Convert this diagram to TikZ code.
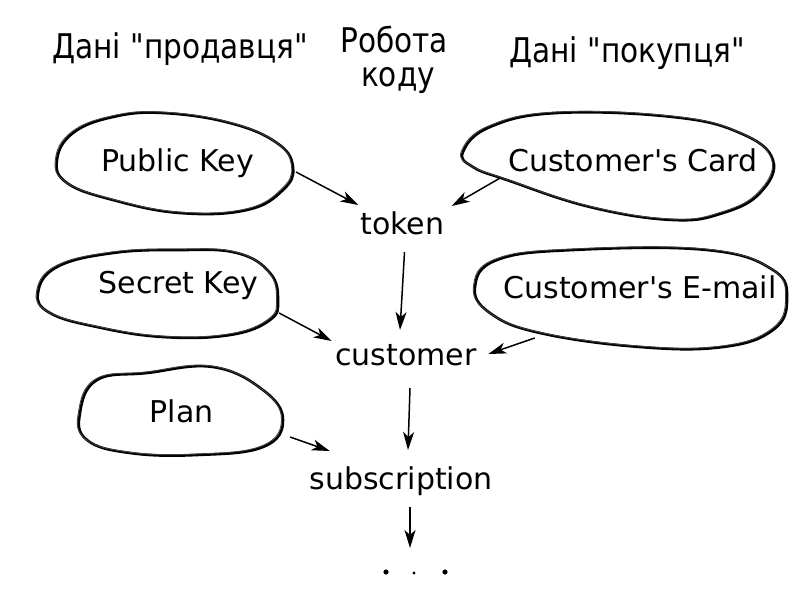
\documentclass[tikz,border=0pt]{standalone}
\usepackage{fontspec}
\setmainfont[Ligatures=TeXOff]{DejaVu Sans}
\newfontfamily\hdr[FakeStretch=0.87,Ligatures=TeXOff]{DejaVu Sans}
\usetikzlibrary{arrows.meta,calc}
\begin{document}
\begin{tikzpicture}[x=1pt,y=-1pt,
  lbl/.style={inner sep=0pt,anchor=base,font=\fontsize{30}{36}\selectfont},
  hdrlbl/.style={inner sep=0pt,anchor=base,font=\hdr\fontsize{34}{40}\selectfont},
  blob/.style={line width=2.6pt,line join=round,
    postaction={draw,line width=0.9pt,black!75,transform canvas={xshift=-1.5pt,yshift=1pt}}},
  conn/.style={line width=1.5pt,-{Stealth[length=18pt,width=11pt,inset=5pt]}}]
\useasboundingbox (0,0) rectangle (800,600);
% headers
\node[hdrlbl] (h1) at (180,58) {Дані "продавця"};
\node[hdrlbl] (h2a) at (394,52) {Робота};
\node[hdrlbl] (h2b) at (398,86) {коду};
\node[hdrlbl] (h3) at (627,62) {Дані "покупця"};
% blobs
\draw[blob] plot[smooth cycle,tension=0.7] coordinates {(57,160) (73,133) (113,117) (163,113) (230,123) (277,143) (293,167) (283,190) (247,210) (180,213) (113,200) (67,183)};
\draw[blob] plot[smooth cycle,tension=0.7] coordinates {(38,293) (57,267) (113,253) (180,250) (237,253) (270,273) (278,300) (270,320) (230,335) (163,337) (97,327) (50,313)};
\draw[blob] plot[smooth cycle,tension=0.7] coordinates {(80,413) (97,380) (147,373) (213,367) (263,390) (283,420) (263,447) (197,455) (130,453) (87,440)};
\draw[blob] plot[smooth cycle,tension=0.7] coordinates {(463,152) (490,127) (557,113) (673,117) (740,133) (773,160) (760,193) (723,213) (673,220) (590,207) (507,180) (473,167)};
\draw[blob] plot[smooth cycle,tension=0.7] coordinates {(475,287) (497,260) (573,250) (707,250) (773,270) (787,300) (773,330) (723,347) (640,347) (540,333) (490,313)};
% labels
\node[lbl] (pk) at (177.5,171) {Public Key};
\node[lbl] (sk) at (178.5,293) {Secret Key};
\node[lbl] (plan) at (181.5,422) {Plan};
\node[lbl] (cc) at (633,171) {Customer's Card};
\node[lbl] (em) at (640,298) {Customer's E-mail};
\node[lbl] (token) at (402.5,234) {token};
\node[lbl] (cust) at (406,365) {customer};
\node[lbl] (sub) at (401,489) {subscription};
\coordinate (dots) at (414,572);
\fill ($(dots)+(-28,0)$) circle (2.6pt);
\fill ($(dots)+(0,1)$) circle (1.6pt);
\fill ($(dots)+(31,0)$) circle (2.6pt);
% connectors
\draw[conn] ($(pk.base east)+(42,1)$) -- ($(token.base west)+(-2,-29)$);
\draw[conn] ($(cc.base west)+(-8,7)$) -- ($(token.base east)+(7,-28)$);
\draw[conn] ($(token.base)+(2,18)$) -- ($(cust.base)+(-6,-35)$);
\draw[conn] ($(sk.base east)+(20.5,20)$) -- ($(cust.base west)+(-3.5,-24)$);
\draw[conn] ($(em.base west)+(31.5,40)$) -- ($(cust.base east)+(11.5,-11)$);
\draw[conn] ($(cust.base)+(4,23)$) -- ($(sub.base)+(7,-39)$);
\draw[conn] ($(plan.base east)+(76.5,15)$) -- ($(sub.base west)+(20.5,-38)$);
\draw[conn] ($(sub.base)+(9,18)$) -- ($(dots)+(-4,-24)$);
\end{tikzpicture}
\end{document}
